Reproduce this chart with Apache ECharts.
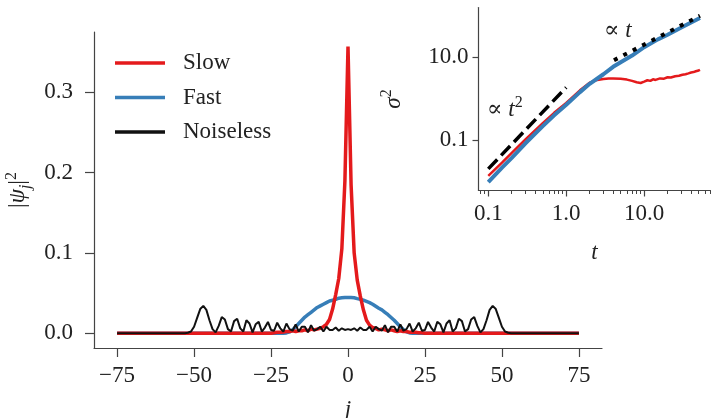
<!DOCTYPE html>
<html>
<head>
<meta charset="utf-8">
<script src="https://cdn.jsdelivr.net/npm/echarts@6/dist/echarts.min.js"></script>
<style>
html,body{margin:0;padding:0;background:#fff;}
#chart{width:717px;height:418px;}
</style>
</head>
<body>
<div id="chart"></div>
<script>
// ---------- main panel data ----------
const sites = [-75,-74,-73,-72,-71,-70,-69,-68,-67,-66,-65,-64,-63,-62,-61,-60,-59,-58,-57,-56,-55,-54,-53,-52,-51,-50,-49,-48,-47,-46,-45,-44,-43,-42,-41,-40,-39,-38,-37,-36,-35,-34,-33,-32,-31,-30,-29,-28,-27,-26,-25,-24,-23,-22,-21,-20,-19,-18,-17,-16,-15,-14,-13,-12,-11,-10,-9,-8,-7,-6,-5,-4,-3,-2,-1,0,1,2,3,4,5,6,7,8,9,10,11,12,13,14,15,16,17,18,19,20,21,22,23,24,25,26,27,28,29,30,31,32,33,34,35,36,37,38,39,40,41,42,43,44,45,46,47,48,49,50,51,52,53,54,55,56,57,58,59,60,61,62,63,64,65,66,67,68,69,70,71,72,73,74,75];

const slowProb = [0,0,0,0,0,0,0,0,0,0,0,0,0,0,0,0,0,0,0,0,0,0,0,0,0,0,0,0,0,0,0,0,0,0,0,0,0,0,0,0,0,0,0,0,0,0,0,0,0,0,0,
0.0005,0.001,0.001,0.0015,0.002,0.002,0.003,0.002,0.003,0.003,0.004,0.003,0.005,0.004,0.005,0.006,0.008,0.011,0.017,0.030,0.048,0.068,0.105,0.19,
0.357,
0.185,0.10,0.066,0.046,0.029,0.016,0.010,0.007,0.006,0.004,0.005,0.004,0.003,0.004,0.003,0.002,0.003,0.002,0.002,0.001,0.001,0.001,0.0005,0.0005,
0,0,0,0,0,0,0,0,0,0,0,0,0,0,0,0,0,0,0,0,0,0,0,0,0,0,0,0,0,0,0,0,0,0,0,0,0,0,0,0,0,0,0,0,0,0,0,0,0,0,0];

const fastProb = [0,0,0,0,0,0,0,0,0,0,0,0,0,0,0,0,0,0,0,0,0,0,0,0,0,0,0,0,0,0,0,0,0,0,0,0,0,0,0,0,0,0,0,0,0,0,0,0,0,0,0,0,0,0,0,
0.0003,0.0015,0.004,0.008,0.012,0.016,0.020,0.023,0.026,0.029,0.032,0.034,0.036,0.038,0.040,0.041,0.042,0.0435,0.044,0.0445,
0.0445,
0.0443,0.044,0.043,0.0422,0.041,0.0395,0.038,0.036,0.0335,0.031,0.029,0.026,0.023,0.0195,0.016,0.012,0.008,0.0045,0.0015,0.0003,
0,0,0,0,0,0,0,0,0,0,0,0,0,0,0,0,0,0,0,0,0,0,0,0,0,0,0,0,0,0,0,0,0,0,0,0,0,0,0,0,0,0,0,0,0,0,0,0,0,0,0,0,0,0,0];

const noiselessProb = [0,0,0,0,0,0,0,0,0,0,0,0,0,0,0,0,0,0,0,0,0,0,0,
0.0005,0.002,0.008,0.019,0.030,0.034,0.029,0.016,0.005,0.001,0.009,0.020,0.017,0.005,0.002,0.015,0.018,0.006,0.002,0.016,0.012,0.001,0.011,0.014,0.002,0.007,0.014,0.004,0.003,0.013,0.006,0.002,0.012,0.005,0.003,0.011,0.002,0.008,0.008,0.001,0.010,0.003,0.005,0.008,0.002,0.008,0.004,0.004,0.007,0.003,0.006,0.004,
0.005,
0.004,0.006,0.003,0.007,0.004,0.004,0.008,0.002,0.008,0.005,0.003,0.010,0.001,0.008,0.008,0.002,0.011,0.003,0.005,0.012,0.002,0.006,0.013,0.003,0.004,0.014,0.007,0.002,0.014,0.011,0.001,0.012,0.016,0.002,0.006,0.018,0.015,0.002,0.005,0.017,0.020,0.009,0.001,0.005,0.016,0.029,0.034,0.030,0.019,0.008,0.002,0.0005,
0,0,0,0,0,0,0,0,0,0,0,0,0,0,0,0,0,0,0,0,0,0,0];

const mainXTicks = [-75,-50,-25,0,25,50,75];
const mainYTicks = [0,0.1,0.2,0.3];

// ---------- inset data ----------
const fastTime  = [0.1,0.15,0.2,0.3,0.5,0.7,1.0,1.5,2,3,4,5,7,10,15,20,30,40,52];
const fastVar   = [0.0098,0.022,0.038,0.085,0.22,0.4,0.72,1.45,2.3,3.9,5.9,7.6,11,17.5,27,35,52,69,88];
const slowTime  = [0.1,0.15,0.2,0.3,0.5,0.7,1.0,1.5,2.0,2.5,3.0,3.5,4,5,6,7,8,9,10,11,12,13,14,16,18,20,22,25,28,31,34,37,40,43,46,50,52];
const slowVar   = [0.014,0.029,0.05,0.105,0.26,0.46,0.8,1.6,2.45,2.85,3.0,3.1,3.1,3.05,2.9,2.7,2.5,2.4,2.6,2.8,2.7,2.95,2.85,3.1,3.05,3.3,3.25,3.5,3.6,3.8,3.9,4.1,4.3,4.4,4.6,4.8,5.0];
const ballisticTime = [0.1,1.0];
const ballisticVar  = [0.0206,1.88];
const diffusiveTime = [4.1,52];
const diffusiveVar  = [8.5,100];
const insetXTicks = [0.1,1,10];
const insetXMinor = [0.08,0.09,0.2,0.3,0.4,0.5,0.6,0.7,0.8,0.9,2,3,4,5,6,7,8,9,20,30,40,50,60,70];
const insetYTicks = [0.1,10];

const pairs = (xs, ys) => xs.map((x, i) => [x, ys[i]]);

const FONT = "'Liberation Serif','DejaVu Serif',serif";
const FS = 23;
const RED = '#e41a1c', BLUE = '#377eb8', BLACK = '#111111';
const AXC = '#444';
const minusFmt = v => (v < 0 ? '\u2212' + (-v) : String(v));

const chart = echarts.init(document.getElementById('chart'), null, {renderer: 'canvas'});

const option = {
  backgroundColor: '#fff',
  animation: false,
  textStyle: {fontFamily: FONT},
  grid: [
    {left: 94, top: 32, width: 508, height: 316, containLabel: false, outerBoundsMode: 'none'},
    {left: 478.5, top: 7.5, width: 232, height: 183, containLabel: false, outerBoundsMode: 'none'}
  ],
  legend: {
    data: ['Slow', 'Fast', 'Noiseless'],
    orient: 'vertical',
    left: 115,
    top: 51.5,
    padding: 0,
    icon: 'rect',
    itemWidth: 50,
    itemHeight: 3.5,
    itemGap: 11.5,
    textStyle: {fontFamily: FONT, fontSize: FS, color: '#222', padding: [0, 0, 0, 13]}
  },
  xAxis: [
    {
      type: 'value', gridIndex: 0, min: -82.5, max: 82.5, position: 'bottom',
      name: 'j', nameLocation: 'middle', nameGap: 50,
      nameTextStyle: {fontFamily: FONT, fontSize: FS, fontStyle: 'italic', color: '#222'},
      axisLine: {show: true, onZero: false, lineStyle: {color: AXC, width: 1.2}},
      axisTick: {show: true, length: 9, lineStyle: {color: AXC, width: 1.2}, customValues: mainXTicks},
      axisLabel: {show: true, margin: 16, fontFamily: FONT, fontSize: FS, color: '#222', customValues: mainXTicks, formatter: minusFmt},
      splitLine: {show: false}
    },
    {
      type: 'log', gridIndex: 1, logBase: 10, min: 0.0749, max: 71, position: 'bottom',
      name: 't', nameLocation: 'middle', nameGap: 51,
      nameTextStyle: {fontFamily: FONT, fontSize: FS, fontStyle: 'italic', color: '#222'},
      axisLine: {show: true, onZero: false, lineStyle: {color: AXC, width: 1.2}},
      axisTick: {show: true, length: 6, lineStyle: {color: AXC, width: 1.2}, customValues: insetXTicks},
      axisLabel: {show: true, margin: 12, fontFamily: FONT, fontSize: FS, color: '#222', customValues: insetXTicks, formatter: v => Number(v).toFixed(1)},
      splitLine: {show: false}, minorTick: {show: false}
    },
    {
      type: 'log', gridIndex: 1, logBase: 10, min: 0.0749, max: 71, position: 'bottom', offset: 0,
      axisLine: {show: false, onZero: false},
      axisTick: {show: true, length: 3.5, lineStyle: {color: AXC, width: 1}, customValues: insetXMinor},
      axisLabel: {show: false},
      splitLine: {show: false}
    }
  ],
  yAxis: [
    {
      type: 'value', gridIndex: 0, min: -0.0185, max: 0.375, position: 'left',
      name: '{b|}{a||}{i|\u03c8}{sub|j}{a||}{sup|2}', nameLocation: 'middle', nameGap: 60, nameRotate: 90,
      nameTextStyle: {
        fontFamily: FONT, fontSize: FS, color: '#222',
        rich: {
          a: {fontFamily: FONT, fontSize: FS, color: '#222', lineHeight: 30, verticalAlign: 'middle'},
          b: {fontSize: 1, lineHeight: 30},
          i: {fontFamily: FONT, fontSize: FS, fontStyle: 'italic', color: '#222', lineHeight: 30, verticalAlign: 'middle'},
          sub: {fontFamily: FONT, fontSize: 16, fontStyle: 'italic', color: '#222', lineHeight: 30, verticalAlign: 'bottom'},
          sup: {fontFamily: FONT, fontSize: 16, color: '#222', lineHeight: 30, verticalAlign: 'top'}
        }
      },
      axisLine: {show: true, onZero: false, lineStyle: {color: AXC, width: 1.2}},
      axisTick: {show: true, length: 9, lineStyle: {color: AXC, width: 1.2}, customValues: mainYTicks},
      axisLabel: {show: true, margin: 21, fontFamily: FONT, fontSize: FS, color: '#222', customValues: mainYTicks, formatter: v => Number(v).toFixed(1)},
      splitLine: {show: false}
    },
    {
      type: 'log', gridIndex: 1, logBase: 10, min: 0.0062, max: 158, position: 'left',
      name: '{i|\u03c3}{sup|2}', nameLocation: 'middle', nameGap: 70, nameRotate: 90,
      nameTextStyle: {
        fontFamily: FONT, fontSize: FS, color: '#222',
        rich: {
          i: {fontFamily: FONT, fontSize: FS, fontStyle: 'italic', color: '#222', lineHeight: 30, verticalAlign: 'middle'},
          sup: {fontFamily: FONT, fontSize: 16, color: '#222', lineHeight: 30, verticalAlign: 'top'}
        }
      },
      axisLine: {show: true, onZero: false, lineStyle: {color: AXC, width: 1.2}},
      axisTick: {show: true, length: 6, lineStyle: {color: AXC, width: 1.2}, customValues: insetYTicks},
      axisLabel: {show: true, margin: 10, fontFamily: FONT, fontSize: FS, color: '#222', customValues: insetYTicks, formatter: v => Number(v).toFixed(1)},
      splitLine: {show: false}, minorTick: {show: false}
    }
  ],
  series: [
    {name: 'Fast', type: 'line', xAxisIndex: 0, yAxisIndex: 0, data: pairs(sites, fastProb), showSymbol: false, symbol: 'none', z: 2,
      lineStyle: {color: BLUE, width: 3.5}, itemStyle: {color: BLUE}},
    {name: 'Slow', type: 'line', xAxisIndex: 0, yAxisIndex: 0, data: pairs(sites, slowProb), showSymbol: false, symbol: 'none', z: 3,
      lineStyle: {color: RED, width: 3.5}, itemStyle: {color: RED}},
    {name: 'Noiseless', type: 'line', xAxisIndex: 0, yAxisIndex: 0, data: pairs(sites, noiselessProb), showSymbol: false, symbol: 'none', z: 4,
      lineStyle: {color: BLACK, width: 2}, itemStyle: {color: BLACK}},

    {name: 'slowVar', type: 'line', xAxisIndex: 1, yAxisIndex: 1, data: pairs(slowTime, slowVar), showSymbol: false, symbol: 'none', z: 3,
      lineStyle: {color: RED, width: 2.5}},
    {name: 'fastVar', type: 'line', xAxisIndex: 1, yAxisIndex: 1, data: pairs(fastTime, fastVar), showSymbol: false, symbol: 'none', z: 4,
      lineStyle: {color: BLUE, width: 4}},
    {name: 'ballistic', type: 'line', xAxisIndex: 1, yAxisIndex: 1, data: pairs(ballisticTime, ballisticVar), showSymbol: false, symbol: 'none', z: 5,
      lineStyle: {color: '#000', width: 3.5, type: [13, 5.6], cap: 'butt'}},
    {name: 'diffusive', type: 'line', xAxisIndex: 1, yAxisIndex: 1, data: pairs(diffusiveTime, diffusiveVar), showSymbol: false, symbol: 'none', z: 5,
      lineStyle: {color: '#000', width: 4, type: [4, 6.6], cap: 'butt'}}
  ],
  graphic: [
    {type: 'text', left: 487, top: 95, z: 10,
      style: {text: '{s|\u221d }{i|t}{sup|2}', font: FS + "px " + FONT, fill: '#222',
        rich: {
          s: {fontFamily: FONT, fontSize: FS, fill: '#222', lineHeight: 26, verticalAlign: 'bottom'},
          i: {fontFamily: FONT, fontSize: FS, fontStyle: 'italic', fill: '#222', lineHeight: 26, verticalAlign: 'bottom'},
          sup: {fontFamily: FONT, fontSize: 16, fill: '#222', lineHeight: 26, verticalAlign: 'top'}
        }}},
    {type: 'text', left: 604, top: 19, z: 10,
      style: {text: '{s|\u221d }{i|t}', font: FS + "px " + FONT, fill: '#222',
        rich: {
          s: {fontFamily: FONT, fontSize: FS, fill: '#222', lineHeight: 26},
          i: {fontFamily: FONT, fontSize: FS, fontStyle: 'italic', fill: '#222', lineHeight: 26}
        }}}
  ]
};

chart.setOption(option);
</script>
</body>
</html>
